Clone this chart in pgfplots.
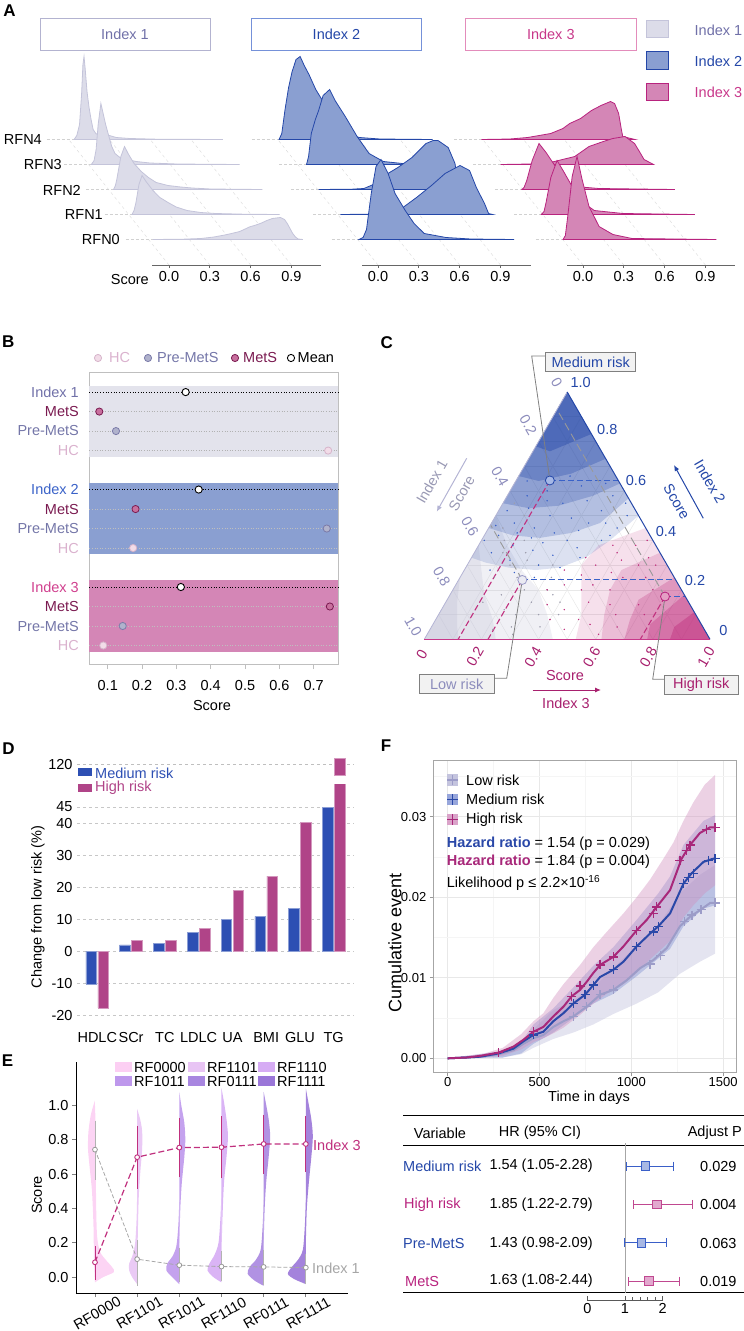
\documentclass[border=0pt]{standalone}
\usepackage{fontspec}
\setmainfont{Liberation Sans}
\usepackage{pgfplots}
\pgfplotsset{compat=1.18}
\usepackage{pgfplotstable}
\usetikzlibrary{arrows.meta}

\newcommand\fs[1]{\fontsize{#1}{#1}\selectfont}

\definecolor{gA}{HTML}{DCDCE9}
\definecolor{gAe}{HTML}{C4C4DA}
\definecolor{tA}{HTML}{7070A8}
\definecolor{gB}{HTML}{8A9FD1}
\definecolor{gBe}{HTML}{2447A8}
\definecolor{gC}{HTML}{D486B6}
\definecolor{gCe}{HTML}{B8237E}
\definecolor{tC}{HTML}{C8388A}
\definecolor{bandA}{HTML}{E3E3EC}
\definecolor{hcF}{HTML}{F2DCE8}
\definecolor{hcE}{HTML}{D6B4CA}
\definecolor{hcT}{HTML}{DAB2CE}
\definecolor{preF}{HTML}{B0B2CC}
\definecolor{preE}{HTML}{7A7AA8}
\definecolor{preT}{HTML}{7476A8}
\definecolor{metF}{HTML}{C8709E}
\definecolor{metE}{HTML}{7A1A50}
\definecolor{idxB}{HTML}{3A62C8}
\definecolor{idxC}{HTML}{D0408E}
\definecolor{medC}{HTML}{2D4FB3}
\definecolor{highC}{HTML}{B04488}
\definecolor{triL}{HTML}{B4B4D4}
\definecolor{triLt}{HTML}{8C8CBC}
\definecolor{triBt}{HTML}{A8206E}
\definecolor{ptA}{HTML}{C4C4D8}
\definecolor{ptC}{HTML}{C0307E}
\definecolor{vA}{HTML}{FCCFF3}
\definecolor{vB}{HTML}{E8C4F4}
\definecolor{vC}{HTML}{BE98EC}
\definecolor{vD}{HTML}{D6ACF4}
\definecolor{vE}{HTML}{A886E0}
\definecolor{vF}{HTML}{9A76D8}
\definecolor{lowL}{HTML}{9C9CC8}
\definecolor{lowB}{HTML}{C4C4DE}
\definecolor{medL}{HTML}{2A48A8}
\definecolor{medB}{HTML}{6A80CC}
\definecolor{highL}{HTML}{A8287A}
\definecolor{highB}{HTML}{D08CBC}
\definecolor{fBlue}{HTML}{3A5FC8}
\definecolor{fBlueF}{HTML}{A8B8E4}
\definecolor{fPink}{HTML}{C04890}
\definecolor{fPinkF}{HTML}{E2A8CE}

\pgfplotsset{
  every axis/.append style={font=\fs{14.5}, scale only axis,
    /pgf/number format/assume math mode=true},
  /pgfplots/table/tern/.style={x expr=\thisrow{c}+0.5*\thisrow{b}, y expr=0.8660*\thisrow{b}},
}

% ridge: fill, edge, row, coordinates (score, height)
\newcommand{\ridge}[4]{%
  \addplot[fill=#1, draw=#2, line width=0.8pt, x filter/.expression={x-0.147*#3},
    y filter/.expression={y+25.5+25*#3}] coordinates {#4} -- cycle;}
% half violin: colour, category, side (+/-), coordinates (half width px, score)
\newcommand{\vio}[4]{%
  \addplot[fill=#1, draw=none, fill opacity=0.9, smooth, tension=0.5,
    x filter/.expression={#2#3x/42.2}] coordinates {#4} -- cycle;}

% ---- C: ternary scores (Index 3 = c, Index 2 = b)
\pgfplotstableread{
c b
0.05 0.42
0.12 0.38
0.20 0.36
0.28 0.34
0.35 0.37
0.42 0.40
0.08 0.47
0.16 0.45
0.24 0.43
0.32 0.44
0.40 0.47
0.46 0.50
0.03 0.52
0.10 0.53
0.19 0.50
0.27 0.49
0.36 0.52
0.43 0.55
0.14 0.32
0.25 0.30
0.33 0.29
0.06 0.35
0.22 0.39
0.38 0.33
0.30 0.40
0.11 0.43
0.02 0.46
0.17 0.41
0.45 0.45
0.21 0.55
0.29 0.56
0.37 0.58
0.07 0.58
0.13 0.60
0.24 0.62
0.32 0.63
0.04 0.64
0.18 0.66
0.09 0.28
0.18 0.27
0.26 0.25
0.44 0.42
0.34 0.47
0.15 0.56
0.01 0.40
}\bluepts
\pgfplotstableread{
c b
0.45 0.30
0.50 0.35
0.52 0.27
0.55 0.38
0.48 0.22
0.55 0.20
0.60 0.30
0.58 0.14
0.62 0.10
0.65 0.25
0.50 0.15
0.45 0.20
0.42 0.26
0.55 0.06
0.60 0.02
0.65 0.05
0.68 0.14
0.62 0.33
0.40 0.33
0.47 0.38
0.53 0.32
0.38 0.22
0.43 0.12
0.50 0.08
0.57 0.25
0.70 0.20
0.66 0.30
0.72 0.10
0.35 0.28
0.58 0.40
0.40 0.08
0.36 0.14
0.47 0.04
0.33 0.20
}\pinkpts
\pgfplotstableread{
c b
0.15 0.30
0.20 0.25
0.25 0.20
0.30 0.15
0.35 0.10
0.28 0.05
0.22 0.12
0.18 0.18
0.12 0.25
0.10 0.35
0.08 0.40
0.18 0.35
0.25 0.30
0.32 0.25
0.40 0.15
0.38 0.05
0.30 0.30
0.15 0.40
0.22 0.04
0.33 0.20
0.20 0.32
0.05 0.45
0.27 0.10
0.13 0.15
0.42 0.10
0.36 0.18
0.10 0.50
0.04 0.55
0.30 0.02
}\greypts
% density levels of the three clouds
\pgfplotstableread{
c b
0 0.33
0.06 0.31
0.15 0.29
0.25 0.28
0.33 0.29
0.4 0.33
0.45 0.4
0.5 0.5
0 1
}\blueA
\pgfplotstableread{
c b
0 0.45
0.1 0.42
0.2 0.41
0.3 0.43
0.38 0.47
0.43 0.57
0 1
}\blueB
\pgfplotstableread{
c b
0 0.55
0.1 0.53
0.2 0.54
0.3 0.58
0.37 0.63
0 1
}\blueC
\pgfplotstableread{
c b
0 0.66
0.08 0.64
0.18 0.67
0.27 0.73
0 1
}\blueD
\pgfplotstableread{
c b
0 0.78
0.06 0.76
0.17 0.83
0 1
}\blueE
\pgfplotstableread{
c b
0.53 0
0.5 0.1
0.45 0.2
0.4 0.3
0.42 0.38
0.55 0.45
1 0
}\pinkA
\pgfplotstableread{
c b
0.62 0
0.58 0.1
0.55 0.2
0.55 0.28
0.65 0.35
1 0
}\pinkB
\pgfplotstableread{
c b
0.7 0
0.68 0.08
0.67 0.16
0.75 0.25
1 0
}\pinkC
\pgfplotstableread{
c b
0.78 0
0.76 0.06
0.82 0.18
1 0
}\pinkD
\pgfplotstableread{
c b
0.86 0
0.85 0.05
0.89 0.11
1 0
}\pinkE
\pgfplotstableread{
c b
0 0.5
0.1 0.38
0.2 0.28
0.3 0.2
0.38 0.1
0.45 0
0 0
}\greyA
\pgfplotstableread{
c b
0 0.38
0.06 0.28
0.12 0.18
0.2 0.08
0.25 0
0 0
}\greyB
\pgfplotstableread{
c b
0 0.25
0.04 0.15
0.09 0.05
0.12 0
0 0
}\greyC

% ---- F: cumulative event curves
\pgfplotstableread{
t v
0 0
103 0.0001
176 0.0003
276 0.0007
358 0.00145
412 0.0023
467 0.0033
521 0.0039
575 0.0052
630 0.0064
675 0.0077
721 0.0085
757 0.0095
793 0.0106
830 0.0116
902 0.0126
957 0.0139
1029 0.0159
1084 0.0172
1138 0.0188
1211 0.0209
1274 0.0248
1320 0.0265
1374 0.0280
1429 0.0287
1456 0.0287
}\curH
\pgfplotstableread{
t v
0 0
103 0.0001
176 0.0002
276 0.0006
358 0.0012
412 0.0021
467 0.0029
521 0.0033
575 0.0046
630 0.0056
684 0.0068
748 0.0079
793 0.0091
830 0.0101
902 0.0110
957 0.0120
1029 0.0139
1102 0.0155
1147 0.0164
1211 0.0180
1284 0.0217
1329 0.0230
1393 0.0244
1447 0.0248
1456 0.0248
}\curM
\pgfplotstableread{
t v
0 0
103 0.0001
176 0.0002
276 0.0005
358 0.0010
412 0.0018
467 0.0025
521 0.0029
575 0.0039
630 0.0046
684 0.0052
757 0.0064
830 0.0079
902 0.0085
975 0.0097
1048 0.0112
1120 0.0122
1193 0.0137
1265 0.0164
1320 0.0176
1374 0.0184
1429 0.0193
1456 0.0193
}\curL

\begin{document}
\begin{tikzpicture}[x=1pt, y=1pt, font=\fs{14.5}, tx/.style={inner sep=0pt}]
\useasboundingbox (0,0) rectangle (744,-1331);

% ================= A =================
\node[font=\fs{17}\bfseries] at (9.6,-10.8) {A};
\draw[draw=gAe!80!tA, line width=0.9pt] (40,-18.3) rectangle (210,-50.7);
\node[text=tA] at (125,-34.5) {Index 1};
\draw[draw=idxB!70!white, line width=0.9pt] (251.5,-18.3) rectangle (421.5,-50.7);
\node[text=gBe] at (336.5,-34.5) {Index 2};
\draw[draw=idxC!60!white, line width=0.9pt] (465.6,-18.3) rectangle (636,-50.7);
\node[text=tC] at (550.8,-34.5) {Index 3};
\draw[fill=gA, draw=gAe, line width=0.8pt] (646.6,-20) rectangle (668.2,-37.3);
\draw[fill=gB, draw=gBe, line width=0.8pt] (646.6,-51.7) rectangle (668.2,-69.3);
\draw[fill=gC, draw=gCe, line width=0.8pt] (646.6,-83.3) rectangle (668.2,-100.7);
\node[tx, anchor=west, text=tA] at (694.5,-30) {Index 1};
\node[tx, anchor=west, text=gBe] at (694.5,-61.5) {Index 2};
\node[tx, anchor=west, text=tC] at (694.5,-92.5) {Index 3};
\node[tx, anchor=east] at (42,-140) {RFN4};
\node[tx, anchor=east] at (62,-165) {RFN3};
\node[tx, anchor=east] at (81,-190) {RFN2};
\node[tx, anchor=east] at (103,-215) {RFN1};
\node[tx, anchor=east] at (120,-240) {RFN0};
\node[tx, anchor=east] at (149,-280) {Score};

\pgfplotsset{ridgeaxis/.style={anchor=south west, height=215pt, ymin=0, ymax=215, clip=false,
  axis x line=bottom, axis y line=none, axis line style={-, black!60, line width=0.8pt},
  xtick={0,0.3,0.6,0.9}, xticklabels={0.0,0.3,0.6,0.9},
  xtick align=outside, major tick length=3pt, tick style={black!60, line width=0.8pt}}}

\begin{axis}[ridgeaxis, at={(152pt,-265pt)}, width=169pt, xmin=-0.125, xmax=1.118]
\draw[dashed, black!15] (axis cs:0,0) -- (axis cs:-0.738,125.5);
\draw[dashed, black!15] (axis cs:0.3,0) -- (axis cs:-0.438,125.5);
\draw[dashed, black!15] (axis cs:0.6,0) -- (axis cs:-0.138,125.5);
\draw[dashed, black!15] (axis cs:0.9,0) -- (axis cs:0.162,125.5);
\draw[densely dashed, black!18] (axis cs:-0.898,125.5) -- (axis cs:-0.698,125.5);
\draw[densely dashed, black!18] (axis cs:-0.771,100.5) -- (axis cs:-0.571,100.5);
\draw[densely dashed, black!18] (axis cs:-0.608,75.5) -- (axis cs:-0.408,75.5);
\draw[densely dashed, black!18] (axis cs:-0.472,50.5) -- (axis cs:-0.272,50.5);
\draw[densely dashed, black!18] (axis cs:-0.318,25.5) -- (axis cs:-0.118,25.5);
\ridge{gA}{gAe}{4}{(-0.11,0) (-0.09,4) (-0.07,15) (-0.055,45) (-0.045,75) (-0.037,83) (-0.028,70) (-0.015,48) (0.0,32) (0.015,20) (0.03,10) (0.05,6) (0.08,4) (0.12,3) (0.15,4) (0.2,2) (0.3,1) (0.5,0.3) (0.985,0)}
\ridge{gA}{gAe}{3}{(-0.13,0) (-0.11,4) (-0.095,15) (-0.08,40) (-0.06,61) (-0.045,52) (-0.025,40) (-0.007,31) (0.02,18) (0.044,11) (0.08,7) (0.147,4.5) (0.2,3) (0.3,1.5) (0.5,0.5) (0.96,0)}
\ridge{gA}{gAe}{2}{(-0.114,0) (-0.1,4) (-0.09,10) (-0.06,33) (-0.033,43) (-0.007,36) (0.037,26) (0.09,18) (0.143,12) (0.2,7) (0.287,4) (0.38,2.5) (0.463,1.5) (0.6,0.5) (0.98,0)}
\ridge{gA}{gAe}{1}{(-0.125,0) (-0.11,4) (-0.096,12) (-0.074,30) (-0.051,39) (-0.022,33) (0.029,24) (0.08,17) (0.14,12) (0.2,7.5) (0.28,4) (0.38,2) (0.49,1) (0.7,0.3) (0.96,0)}
\ridge{gA}{gAe}{0}{(-0.118,0) (0.1,0.3) (0.235,1) (0.33,2.5) (0.41,4.5) (0.46,6) (0.52,8) (0.56,10.5) (0.59,12.5) (0.64,14.5) (0.68,16.5) (0.72,19) (0.76,21) (0.82,22) (0.85,20) (0.87,16) (0.89,11) (0.91,6) (0.93,2.5) (0.95,0.5) (0.985,0)}
\end{axis}

\begin{axis}[ridgeaxis, at={(362pt,-265pt)}, width=169pt, xmin=-0.118, xmax=1.125]
\draw[dashed, black!15] (axis cs:0,0) -- (axis cs:-0.738,125.5);
\draw[dashed, black!15] (axis cs:0.3,0) -- (axis cs:-0.438,125.5);
\draw[dashed, black!15] (axis cs:0.6,0) -- (axis cs:-0.138,125.5);
\draw[dashed, black!15] (axis cs:0.9,0) -- (axis cs:0.162,125.5);
\draw[densely dashed, black!18] (axis cs:-0.928,125.5) -- (axis cs:-0.728,125.5);
\draw[densely dashed, black!18] (axis cs:-0.726,100.5) -- (axis cs:-0.526,100.5);
\draw[densely dashed, black!18] (axis cs:-0.637,75.5) -- (axis cs:-0.437,75.5);
\draw[densely dashed, black!18] (axis cs:-0.477,50.5) -- (axis cs:-0.277,50.5);
\draw[densely dashed, black!18] (axis cs:-0.34,25.5) -- (axis cs:-0.14,25.5);
\ridge{gB}{gBe}{4}{(-0.14,0) (-0.12,6) (-0.096,30) (-0.07,52) (-0.044,68) (-0.015,80) (0.015,83) (0.045,74) (0.08,65) (0.13,50) (0.206,33) (0.27,16) (0.345,6) (0.45,2) (0.6,0.5) (0.99,0)}
\ridge{gB}{gBe}{3}{(-0.085,0) (-0.07,8) (-0.05,31) (-0.02,45) (0.004,54) (0.037,69) (0.085,75) (0.125,64) (0.2,48) (0.287,28) (0.375,11) (0.48,3) (0.62,1) (1.0,0)}
\ridge{gB}{gBe}{2}{(-0.143,0) (0.1,0.3) (0.19,1) (0.26,5) (0.33,13) (0.44,22) (0.544,32) (0.647,46) (0.7,49) (0.735,49) (0.81,42) (0.86,26) (0.875,12) (0.89,2) (0.91,0)}
\ridge{gB}{gBe}{1}{(-0.13,0) (0.2,0.5) (0.32,6) (0.43,17) (0.54,29) (0.64,41) (0.75,49) (0.82,44) (0.87,27) (0.93,11) (0.96,1) (0.99,0)}
\ridge{gB}{gBe}{0}{(-0.14,0) (-0.11,2) (-0.085,10) (-0.05,46) (-0.015,73) (0.022,80) (0.074,66) (0.125,46) (0.2,29) (0.265,16) (0.34,6) (0.5,2) (0.68,0.5) (1.0,0)}
\end{axis}

\begin{axis}[ridgeaxis, at={(567pt,-265pt)}, width=168pt, xmin=-0.118, xmax=1.118]
\draw[dashed, black!15] (axis cs:0,0) -- (axis cs:-0.738,125.5);
\draw[dashed, black!15] (axis cs:0.3,0) -- (axis cs:-0.438,125.5);
\draw[dashed, black!15] (axis cs:0.6,0) -- (axis cs:-0.138,125.5);
\draw[dashed, black!15] (axis cs:0.9,0) -- (axis cs:0.162,125.5);
\draw[densely dashed, black!18] (axis cs:-0.948,125.5) -- (axis cs:-0.748,125.5);
\draw[densely dashed, black!18] (axis cs:-0.806,100.5) -- (axis cs:-0.606,100.5);
\draw[densely dashed, black!18] (axis cs:-0.649,75.5) -- (axis cs:-0.449,75.5);
\draw[densely dashed, black!18] (axis cs:-0.507,50.5) -- (axis cs:-0.307,50.5);
\draw[densely dashed, black!18] (axis cs:-0.347,25.5) -- (axis cs:-0.147,25.5);
\ridge{gC}{gCe}{4}{(-0.16,0) (0.05,0.5) (0.18,2) (0.35,6) (0.44,11) (0.49,16) (0.57,21) (0.65,29) (0.72,34) (0.79,38) (0.82,36) (0.85,26) (0.87,10) (0.88,3) (0.97,0)}
\ridge{gC}{gCe}{3}{(-0.165,0) (0.05,0.5) (0.2,2) (0.38,8) (0.485,18) (0.59,23) (0.66,26) (0.75,28) (0.82,21) (0.86,12) (0.89,5) (0.96,0)}
\ridge{gC}{gCe}{2}{(-0.155,0) (-0.14,2) (-0.12,9) (-0.08,29) (-0.03,46) (0.022,37) (0.096,22) (0.16,9) (0.235,3) (0.41,1) (0.97,0)}
\ridge{gC}{gCe}{1}{(-0.16,0) (-0.14,3) (-0.125,12) (-0.09,37) (-0.044,54) (0.0,44) (0.05,32) (0.125,14) (0.23,4) (0.44,1) (0.97,0)}
\ridge{gC}{gCe}{0}{(-0.147,0) (-0.13,4) (-0.11,26) (-0.08,63) (-0.044,83) (-0.007,60) (0.044,33) (0.118,13) (0.22,5) (0.36,1) (0.98,0)}
\end{axis}

% ================= B =================
\node[font=\fs{17}\bfseries] at (8.3,-341.7) {B};
\draw[fill=hcF, draw=hcE, line width=0.8pt] (98,-358) circle (3.6);
\node[tx, anchor=west, text=hcT] at (109,-358) {HC};
\draw[fill=preF, draw=preE, line width=0.8pt] (148,-358) circle (3.6);
\node[tx, anchor=west, text=preT] at (157,-358) {Pre-MetS};
\draw[fill=metF, draw=metE, line width=0.8pt] (235,-358) circle (3.6);
\node[tx, anchor=west, text=metE] at (243,-358) {MetS};
\draw[fill=white, draw=black, line width=0.9pt] (291,-358) circle (3.6);
\node[tx, anchor=west] at (297.5,-358) {Mean};

\begin{axis}[at={(89.3pt,-664pt)}, anchor=south west, width=249pt, height=292pt,
  xmin=0.0463, xmax=0.7716, ymin=0.05, ymax=15.03, clip=false,
  axis line style={black!25, line width=0.8pt}, ytick=\empty,
  xtick={0.1,0.2,0.3,0.4,0.5,0.6,0.7}, xticklabels={0.1,0.2,0.3,0.4,0.5,0.6,0.7},
  tick pos=left, tick align=outside, major tick length=5pt, tick style={black!25, line width=0.8pt},
  xticklabel style={yshift=-8pt}]
\fill[bandA] (axis cs:0.0463,14.31) rectangle (axis cs:0.7716,10.67);
\fill[gB] (axis cs:0.0463,9.33) rectangle (axis cs:0.7716,5.69);
\fill[gC] (axis cs:0.0463,4.36) rectangle (axis cs:0.7716,0.68);
\pgfplotsinvokeforeach{13,12,11}{\draw[dotted, black!30, line width=0.6pt] (axis cs:0.0463,#1) -- (axis cs:0.7716,#1);}
\pgfplotsinvokeforeach{8,7,6,3,2,1}{\draw[dotted, white!75!black, line width=0.6pt] (axis cs:0.0463,#1) -- (axis cs:0.7716,#1);}
\pgfplotsinvokeforeach{14,9,4}{\draw[dotted, black, line width=0.7pt] (axis cs:0.0463,#1) -- (axis cs:0.7716,#1);}
\addplot[only marks, mark=*, mark size=3.6pt, mark options={fill=hcF, draw=hcE, line width=0.8pt}] coordinates {(0.742,11) (0.174,6) (0.087,1)};
\addplot[only marks, mark=*, mark size=3.6pt, mark options={fill=preF, draw=preE, line width=0.8pt}] coordinates {(0.124,12) (0.738,7) (0.1436,2)};
\addplot[only marks, mark=*, mark size=3.6pt, mark options={fill=metF, draw=metE, line width=0.8pt}] coordinates {(0.0754,13) (0.181,8) (0.747,3)};
\addplot[only marks, mark=*, mark size=3.6pt, mark options={fill=white, draw=black, line width=0.9pt}] coordinates {(0.327,14) (0.365,9) (0.313,4)};
\end{axis}
\node[tx, anchor=east, text=tA] at (79,-392) {Index 1};
\node[tx, anchor=east, text=metE] at (79,-411.5) {MetS};
\node[tx, anchor=east, text=preT] at (79,-431) {Pre-MetS};
\node[tx, anchor=east, text=hcT] at (79,-450.5) {HC};
\node[tx, anchor=east, text=idxB] at (79,-489.5) {Index 2};
\node[tx, anchor=east, text=metE] at (79,-509) {MetS};
\node[tx, anchor=east, text=preT] at (79,-528.5) {Pre-MetS};
\node[tx, anchor=east, text=hcT] at (79,-548) {HC};
\node[tx, anchor=east, text=idxC] at (79,-587) {Index 3};
\node[tx, anchor=east, text=metE] at (79,-606.5) {MetS};
\node[tx, anchor=east, text=preT] at (79,-626) {Pre-MetS};
\node[tx, anchor=east, text=hcT] at (79,-645.5) {HC};
\node at (212,-705) {Score};

% ================= C =================
\node[font=\fs{17}\bfseries] at (386.7,-342.5) {C};
\foreach \t in {0.1,0.2,...,0.9} {
  \draw[black!9, line width=0.5pt] ({424.3+142.85*\t},{-639.3+247.4*\t}) -- ({710-142.85*\t},{-639.3+247.4*\t});
  \draw[black!9, line width=0.5pt] ({424.3+285.7*\t},-639.3) -- ({710-142.85*(1-\t)},{-639.3+247.4*(1-\t)});
  \draw[black!9, line width=0.5pt] ({424.3+285.7*(1-\t)},-639.3) -- ({424.3+142.85*(1-\t)},{-639.3+247.4*(1-\t)});
}
\begin{axis}[at={(424.3pt,-639.3pt)}, anchor=south west, width=285.7pt, height=247.4pt,
  xmin=0, xmax=1, ymin=0, ymax=0.866, hide axis, clip=false]
\addplot[fill=ptA, draw=none, fill opacity=0.25] table[tern] {\greyA} -- cycle;
\addplot[fill=ptA, draw=none, fill opacity=0.3] table[tern] {\greyB} -- cycle;
\addplot[fill=ptA, draw=none, fill opacity=0.4] table[tern] {\greyC} -- cycle;
\addplot[fill=ptC, draw=none, fill opacity=0.15] table[tern] {\pinkA} -- cycle;
\addplot[fill=ptC, draw=none, fill opacity=0.2] table[tern] {\pinkB} -- cycle;
\addplot[fill=ptC, draw=none, fill opacity=0.27] table[tern] {\pinkC} -- cycle;
\addplot[fill=ptC, draw=none, fill opacity=0.35] table[tern] {\pinkD} -- cycle;
\addplot[fill=ptC, draw=none, fill opacity=0.45] table[tern] {\pinkE} -- cycle;
\addplot[fill=gBe, draw=none, fill opacity=0.16] table[tern] {\blueA} -- cycle;
\addplot[fill=gBe, draw=none, fill opacity=0.22] table[tern] {\blueB} -- cycle;
\addplot[fill=gBe, draw=none, fill opacity=0.26] table[tern] {\blueC} -- cycle;
\addplot[fill=gBe, draw=none, fill opacity=0.32] table[tern] {\blueD} -- cycle;
\addplot[fill=gBe, draw=none, fill opacity=0.42] table[tern] {\blueE} -- cycle;
\addplot[only marks, mark=*, mark size=0.5pt, color=ptA!80!black] table[tern] {\greypts};
\addplot[only marks, mark=*, mark size=0.5pt, color=ptC] table[tern] {\pinkpts};
\addplot[only marks, mark=*, mark size=0.5pt, color=idxB] table[tern] {\bluepts};
% guide lines through the three risk centres
\draw[ptC, dash pattern=on 6pt off 3pt, line width=1.1pt] (axis cs:0.4395,0.556) -- (axis cs:0.1185,0);
\draw[ptC, dash pattern=on 6pt off 3pt, line width=1.1pt] (axis cs:0.343,0.2078) -- (axis cs:0.223,0);
\draw[ptC, dash pattern=on 6pt off 3pt, line width=1.1pt] (axis cs:0.8425,0.1498) -- (axis cs:0.756,0);
\draw[idxB, dash pattern=on 6pt off 3pt, line width=1.1pt] (axis cs:0.4395,0.556) -- (axis cs:0.679,0.556);
\draw[idxB, dash pattern=on 6pt off 3pt, line width=1.1pt] (axis cs:0.343,0.2078) -- (axis cs:0.88,0.2078);
\draw[idxB, dash pattern=on 6pt off 3pt, line width=1.1pt] (axis cs:0.8425,0.1498) -- (axis cs:0.9135,0.1498);
\draw[black!40, dash pattern=on 8pt off 4pt, line width=0.9pt] (axis cs:0.343,0.2078) -- (axis cs:0.2315,0.401);
\draw[black!40, dash pattern=on 8pt off 4pt, line width=0.9pt] (axis cs:0.8425,0.1498) -- (axis cs:0.4645,0.8045);
\end{axis}
\draw[triL, line width=0.8pt] (424.3,-639.3) -- (567.2,-392);
\draw[gBe, line width=1pt] (567.2,-392) -- (710,-639.3);
\draw[tC, line width=1.5pt] (424.3,-639.3) -- (710,-639.3);
% leaders
\draw[black!50, line width=0.8pt] (545.7,-356) -- (531.7,-356) -- (550,-480.7);
\draw[black!50, line width=0.8pt] (494,-678.3) -- (506.7,-678.3) -- (522.3,-580);
\draw[black!50, line width=0.8pt] (664.3,-679.3) -- (652.7,-679.3) -- (665,-596.7);
\begin{axis}[at={(424.3pt,-639.3pt)}, anchor=south west, width=285.7pt, height=247.4pt,
  xmin=0, xmax=1, ymin=0, ymax=0.866, hide axis, clip=false]
% risk centres: Index 3 = 0.1185/0.223/0.756, Index 2 = 0.642/0.24/0.173
\addplot[only marks, mark=*, mark size=4.5pt, mark options={fill=idxB!45!white, draw=gBe, line width=0.8pt}] coordinates {(0.4395,0.556)};
\addplot[only marks, mark=*, mark size=4.5pt, mark options={fill=gA!60!white, draw=lowL, line width=0.8pt}] coordinates {(0.343,0.2078)};
\addplot[only marks, mark=*, mark size=4.5pt, mark options={fill=hcF!60!idxC, draw=gCe, line width=0.8pt}] coordinates {(0.8425,0.1498)};
\end{axis}
\node[draw=black!50, fill=black!5, line width=0.8pt, minimum width=90pt, minimum height=19pt, inner sep=0pt, text=gBe] at (590.7,-362.2) {Medium risk};
\node[draw=black!50, fill=black!5, line width=0.8pt, minimum width=74.7pt, minimum height=18.3pt, inner sep=0pt, text=triLt] at (456.7,-684) {Low risk};
\node[draw=black!50, fill=black!5, line width=0.8pt, minimum width=74pt, minimum height=18.3pt, inner sep=0pt, text=triBt] at (701.3,-684.8) {High risk};
% tick labels
\node[rotate=-60, text=triLt] at (556.7,-382.7) {0};
\node[rotate=-60, text=triLt] at (528.3,-425) {0.2};
\node[rotate=-60, text=triLt] at (500,-476.7) {0.4};
\node[rotate=-60, text=triLt] at (470,-526.7) {0.6};
\node[rotate=-60, text=triLt] at (441.7,-576.7) {0.8};
\node[rotate=-60, text=triLt] at (413.3,-626.7) {1.0};
\node[text=gBe] at (580.7,-382.7) {1.0};
\node[text=gBe] at (607.3,-429.3) {0.8};
\node[text=gBe] at (636,-480) {0.6};
\node[text=gBe] at (666,-531) {0.4};
\node[text=gBe] at (695,-580.7) {0.2};
\node[text=gBe] at (723.3,-630) {0};
\node[rotate=60, text=triBt] at (421.7,-655) {0};
\node[rotate=60, text=triBt] at (475,-656.7) {0.2};
\node[rotate=60, text=triBt] at (533,-657) {0.4};
\node[rotate=60, text=triBt] at (591.7,-657) {0.6};
\node[rotate=60, text=triBt] at (648.3,-657) {0.8};
\node[rotate=60, text=triBt] at (706,-657) {1.0};
\node[rotate=60, text=triL!85!black] at (431.7,-481.7) {Index 1};
\node[rotate=60, text=triL!85!black] at (461.7,-493.3) {Score};
\draw[-{Latex[length=6pt,width=5pt]}, triL, line width=1pt] (466.7,-458.3) -- (436.7,-511.7);
\node[rotate=-60, text=gBe] at (710,-481.7) {Index 2};
\node[rotate=-60, text=gBe] at (676.7,-501.7) {Score};
\draw[-{Latex[length=6pt,width=5pt]}, gBe, line width=1pt] (703.3,-518.3) -- (674,-465);
\node[text=triBt] at (565,-675) {Score};
\draw[-{Latex[length=6pt,width=5pt]}, triBt, line width=1pt] (532.7,-690) -- (601,-690);
\node[text=triBt] at (566,-703) {Index 3};

% ================= D =================
\node[font=\fs{17}\bfseries] at (8.5,-748.5) {D};
\pgfplotsset{baraxis/.style={anchor=south west, width=277pt, xmin=-0.601, xmax=7.601,
  axis line style={draw=none}, tick style={draw=none}, ymajorgrids,
  grid style={dashed, black!22, line width=0.7pt}, yticklabel style={xshift=-1pt}}}
\begin{axis}[baraxis, at={(77pt,-1018.2pt)}, height=233.6pt, ymin=-21, ymax=52,
  ytick={-20,-10,0,10,20,30,40,45},
  xtick={0,...,7}, xticklabels={HDLC,SCr,TC,LDLC,UA,BMI,GLU,TG}, xticklabel style={yshift=-11pt}]
\addplot[ybar, bar width=10.7pt, bar shift=-6pt, fill=medC, draw=medC!55!white, line width=0.6pt]
  coordinates {(0,-10.3) (1,1.9) (2,2.4) (3,5.7) (4,9.9) (5,10.8) (6,13.2) (7,44.9)};
\addplot[ybar, bar width=10.7pt, bar shift=6pt, fill=highC, draw=highC!55!white, line width=0.6pt]
  coordinates {(0,-17.8) (1,3.4) (2,3.4) (3,7.1) (4,18.9) (5,23.4) (6,40.2) (7,121.9)};
\end{axis}
% upper segment of the broken axis: only the TG high-risk bar reaches it
\begin{axis}[baraxis, at={(77pt,-775.2pt)}, height=27.2pt, ymin=116.5, ymax=125,
  ytick={120}, xtick=\empty, clip=false]
\draw[dashed, black!25, line width=0.7pt] (axis cs:-0.601,120) -- (axis cs:7.601,120);
\addplot[ybar, bar width=10.7pt, bar shift=6pt, fill=highC, draw=highC!55!white, line width=0.6pt]
  coordinates {(7,121.9)};
\end{axis}
\node[rotate=90] at (38,-907) {Change from low risk (\%)};
\fill[medC] (78.3,-768.3) rectangle (91.7,-776);
\node[tx, anchor=west, text=medC] at (95,-773) {Medium risk};
\fill[highC] (78.3,-784.3) rectangle (91.7,-791.7);
\node[tx, anchor=west, text=highC] at (95,-788) {High risk};

% ================= E =================
\node[font=\fs{17}\bfseries] at (7.5,-1061) {E};
\fill[vA] (115,-1062) rectangle (132,-1072); \node[tx, anchor=west] at (134,-1067) {RF0000};
\fill[vB] (188,-1062) rectangle (205,-1072); \node[tx, anchor=west] at (207,-1067) {RF1101};
\fill[vD] (258,-1062) rectangle (275,-1072); \node[tx, anchor=west] at (277,-1067) {RF1110};
\fill[vC] (115,-1076) rectangle (132,-1086); \node[tx, anchor=west] at (134,-1081) {RF1011};
\fill[vE] (188,-1076) rectangle (205,-1086); \node[tx, anchor=west] at (207,-1081) {RF0111};
\fill[vF] (258,-1076) rectangle (275,-1086); \node[tx, anchor=west] at (277,-1081) {RF1111};

\begin{axis}[at={(76pt,-1293pt)}, anchor=south west, width=272pt, height=231.3pt,
  xmin=0.55, xmax=7.0, ymin=-0.092, ymax=1.255, clip=false,
  axis x line=bottom, axis y line=left, axis line style={-, line width=0.9pt},
  xtick={1,...,6}, xticklabels={}, ytick={0,0.2,0.4,0.6,0.8,1.0},
  yticklabels={0.0,0.2,0.4,0.6,0.8,1.0},
  tick align=outside, major tick length=4pt, tick style={line width=0.8pt}]
\vio{vA}{1}{-}{(0,-0.02) (1,0.1) (1.5,0.3) (3,0.5) (5.5,0.65) (7,0.75) (6.5,0.85) (4,0.95) (0,1.03)}
\vio{vA}{1}{+}{(0,-0.03) (8,0.0) (19,0.03) (17,0.06) (11,0.1) (5,0.15) (2,0.25) (1,0.5) (1,0.8) (0,1.0)}
\vio{vB}{2}{-}{(0,-0.04) (5,0.0) (8,0.04) (8,0.08) (5,0.12) (2,0.2) (0.5,0.35) (0,0.5)}
\vio{vB}{2}{+}{(0,0.0) (0.5,0.2) (1.5,0.45) (3,0.6) (5,0.75) (5,0.85) (3,0.92) (0,0.98)}
\vio{vC}{3}{-}{(0,-0.04) (7,0.0) (13,0.04) (12,0.08) (7,0.12) (3,0.18) (1,0.3) (0,0.45)}
\vio{vC}{3}{+}{(0,0.2) (1,0.4) (2.5,0.55) (5,0.7) (6,0.8) (5,0.9) (2,1.0) (0,1.08)}
\vio{vD}{4}{-}{(0,-0.03) (8,0.0) (14,0.04) (12,0.08) (7,0.13) (3,0.2) (1,0.35) (0,0.5)}
\vio{vD}{4}{+}{(0,0.15) (1,0.35) (2.5,0.55) (5,0.7) (6.5,0.82) (5,0.92) (2.5,1.02) (0,1.1)}
\vio{vE}{5}{-}{(0,-0.05) (9,-0.02) (16,0.02) (14,0.06) (8,0.1) (3,0.16) (1,0.3) (0,0.45)}
\vio{vE}{5}{+}{(0,0.2) (1,0.4) (2.5,0.55) (5,0.7) (6.5,0.82) (5,0.92) (2,1.02) (0,1.08)}
\vio{vF}{6}{-}{(0,-0.04) (12,-0.01) (18,0.02) (14,0.06) (8,0.1) (3,0.16) (1,0.3) (0,0.45)}
\vio{vF}{6}{+}{(0,0.2) (1,0.4) (3,0.55) (5.5,0.7) (7,0.82) (5.5,0.92) (2.5,1.02) (0,1.1)}
\addplot[black!35, line width=0.8pt, dash pattern=on 4pt off 2pt, mark=*, mark size=2.4pt,
  mark options={solid, fill=white, draw=black!40},
  error bars/.cd, y dir=both, y explicit, error mark=-,
  error bar style={solid, black!30, line width=0.9pt}, error mark options={mark size=3pt, black!30, line width=0.9pt}]
  coordinates {(1,0.743) += (0,0.150) -= (0,0.157) (2,0.105) += (0,0.093) -= (0,0.140)
    (3,0.070) += (0,0.085) -= (0,0.082) (4,0.062) += (0,0.073) -= (0,0.068)
    (5,0.060) += (0,0.080) -= (0,0.085) (6,0.056) += (0,0.064) -= (0,0.076)};
\addplot[ptC, line width=1.2pt, dash pattern=on 6pt off 3pt, mark=*, mark size=2.4pt,
  mark options={solid, fill=white, draw=ptC, line width=0.9pt},
  error bars/.cd, y dir=both, y explicit, error mark=-,
  error bar style={solid, ptC, line width=0.9pt}, error mark options={mark size=3pt, ptC, line width=0.9pt}]
  coordinates {(1,0.087) += (0,0.076) -= (0,0.083) (2,0.699) += (0,0.163) -= (0,0.167)
    (3,0.755) += (0,0.155) -= (0,0.155) (4,0.757) += (0,0.163) -= (0,0.164)
    (5,0.776) += (0,0.154) -= (0,0.156) (6,0.776) += (0,0.146) -= (0,0.146)};
\end{axis}
\node[tx, anchor=west, text=ptC] at (313,-1145) {Index 3};
\node[tx, anchor=west, text=black!35] at (312,-1268) {Index 1};
\node[rotate=90] at (37,-1195) {Score};
\node[rotate=30] at (97.2,-1313) {RF0000};
\node[rotate=30] at (139.4,-1313) {RF1101};
\node[rotate=30] at (181.6,-1313) {RF1011};
\node[rotate=30] at (223.8,-1313) {RF1110};
\node[rotate=30] at (266,-1313) {RF0111};
\node[rotate=30] at (308.2,-1313) {RF1111};

% ================= F =================
\node[font=\fs{17}\bfseries] at (386,-746) {F};
\begin{axis}[at={(433.3pt,-1072.7pt)}, anchor=south west, width=303.4pt, height=312.7pt,
  xmin=-78.4, xmax=1574, ymin=-0.00179, ymax=0.03706,
  axis line style={black!35, line width=0.9pt},
  xtick={0,500,1000,1500}, xticklabels={0,500,1000,1500}, minor xtick={250,750,1250},
  ytick={0,0.01,0.02,0.03}, yticklabels={0.00,0.01,0.02,0.03}, minor ytick={0.005,0.015,0.025,0.035},
  grid=both, major grid style={black!9, line width=0.7pt}, minor grid style={black!4, line width=0.5pt},
  tick pos=left, tick align=outside, major tick length=3.5pt, minor tick length=0pt,
  tick style={black!40, line width=0.8pt}, scaled ticks=false, font=\fs{13},
  xticklabel style={yshift=2pt}]
% confidence bands: upper limit forward, lower limit backward
\addplot[fill=lowB, draw=none, fill opacity=0.45] coordinates {(0,0) (300,0.0006) (400,0.0016) (467,0.0036) (575,0.0060) (684,0.0072) (793,0.0088) (902,0.0112) (1029,0.0140) (1147,0.0165) (1265,0.0205) (1374,0.0228) (1456,0.0240)
  (1456,0.0130) (1374,0.0120) (1265,0.0105) (1147,0.0082) (1029,0.0068) (902,0.0055) (793,0.0042) (684,0.0032) (575,0.0024) (467,0.0013) (400,0.0005) (300,0.0001)} -- cycle;
\addplot[fill=medB, draw=none, fill opacity=0.35] coordinates {(0,0) (300,0.0009) (400,0.0020) (467,0.0042) (575,0.0062) (684,0.0088) (793,0.0115) (902,0.0138) (1029,0.0172) (1147,0.0205) (1211,0.0226) (1284,0.0265) (1393,0.0295) (1456,0.0302)
  (1456,0.0190) (1393,0.0186) (1284,0.0164) (1211,0.0136) (1147,0.0124) (1029,0.0102) (902,0.0080) (793,0.0068) (684,0.0050) (575,0.0032) (467,0.0018) (400,0.0006) (300,0.0001)} -- cycle;
\addplot[fill=highB, draw=none, fill opacity=0.4] coordinates {(0,0) (200,0.0006) (300,0.0013) (400,0.0030) (467,0.0046) (521,0.0056) (575,0.0075) (630,0.0092) (721,0.0116) (793,0.0138) (866,0.0157) (957,0.0180) (1029,0.0200) (1102,0.0222) (1175,0.0248) (1229,0.0268) (1284,0.0295) (1338,0.0318) (1400,0.0340) (1456,0.0352)
  (1456,0.0215) (1400,0.0205) (1338,0.0190) (1284,0.0175) (1229,0.0150) (1175,0.0138) (1102,0.0123) (1029,0.0106) (957,0.0092) (866,0.0080) (793,0.0068) (721,0.0054) (630,0.0038) (575,0.0031) (521,0.0025) (467,0.0020) (400,0.0011) (300,0.0003) (200,0.0001)} -- cycle;
\addplot[lowL, line width=2pt] table[x=t, y=v] {\curL};
\addplot[medL, line width=2pt] table[x=t, y=v] {\curM};
\addplot[highL, line width=2pt] table[x=t, y=v] {\curH};
\addplot[only marks, mark=+, mark size=4.5pt, lowL, line width=1.3pt] coordinates {(684,0.0052) (757,0.0064) (830,0.0079) (902,0.0085) (1102,0.0117) (1160,0.0128) (1290,0.0170) (1330,0.0178) (1380,0.0185) (1456,0.0193)};
\addplot[only marks, mark=+, mark size=4.5pt, medL, line width=1.3pt] coordinates {(467,0.0029) (684,0.0068) (748,0.0079) (793,0.0091) (902,0.0110) (1029,0.0139) (1120,0.0157) (1147,0.0164) (1284,0.0217) (1310,0.0225) (1338,0.0230) (1420,0.0246) (1456,0.0248)};
\addplot[only marks, mark=+, mark size=4.5pt, highL, line width=1.3pt] coordinates {(276,0.0007) (467,0.0033) (675,0.0077) (721,0.0090) (830,0.0116) (902,0.0126) (1029,0.0159) (1120,0.0180) (1138,0.0188) (1265,0.0246) (1300,0.0258) (1320,0.0265) (1410,0.0284) (1456,0.0287)};
\end{axis}
\node[rotate=90, font=\fs{18}] at (395,-943) {Cumulative event};
\node at (589,-1097.3) {Time in days};
\fill[lowB] (446.7,-774.2) rectangle (458.3,-785.8);
\draw[lowL, line width=1.6pt] (447.2,-780) -- (457.8,-780) (452.5,-774.7) -- (452.5,-785.3);
\node[tx, anchor=west] at (466,-780) {Low risk};
\fill[medB!70!white] (446.7,-793.5) rectangle (458.3,-805.1);
\draw[medL, line width=1.6pt] (447.2,-799.3) -- (457.8,-799.3) (452.5,-794) -- (452.5,-804.6);
\node[tx, anchor=west] at (466,-799.3) {Medium risk};
\fill[highB!80!white] (446.7,-813.5) rectangle (458.3,-825.1);
\draw[highL, line width=1.6pt] (447.2,-819.3) -- (457.8,-819.3) (452.5,-814) -- (452.5,-824.6);
\node[tx, anchor=west] at (466,-819.3) {High risk};
\node[tx, anchor=west] at (446.7,-843.3) {{\color{medL}\bfseries Hazard ratio} = 1.54 (p = 0.029)};
\node[tx, anchor=west] at (446.7,-861.7) {{\color{highL}\bfseries Hazard ratio} = 1.84 (p = 0.004)};
\node[tx, anchor=west] at (446.7,-882.7) {Likelihood p ≤ 2.2×10\textsuperscript{-16}};

% forest table
\draw[line width=1pt] (403,-1115) -- (744,-1115);
\draw[line width=1pt] (403,-1145.7) -- (744,-1145.7);
\draw[line width=1pt] (403,-1292.7) -- (744,-1292.7);
\node at (440,-1133) {Variable};
\node at (540,-1133) {HR (95\% CI)};
\node[tx, anchor=east] at (742,-1133) {Adjust P};
\node[tx, anchor=west, text=gBe] at (403,-1166) {Medium risk};
\node[tx, anchor=west, text=gCe] at (404,-1204.3) {High risk};
\node[tx, anchor=west, text=gBe] at (403,-1243.3) {Pre-MetS};
\node[tx, anchor=west, text=gCe] at (405,-1281) {MetS};
\node[tx, anchor=west] at (489.3,-1166) {1.54 (1.05-2.28)};
\node[tx, anchor=west] at (489.3,-1204.3) {1.85 (1.22-2.79)};
\node[tx, anchor=west] at (489.3,-1243.3) {1.43 (0.98-2.09)};
\node[tx, anchor=west] at (489.3,-1281) {1.63 (1.08-2.44)};
\node[tx, anchor=west] at (700,-1166) {0.029};
\node[tx, anchor=west] at (700,-1204.3) {0.004};
\node[tx, anchor=west] at (700,-1243.3) {0.063};
\node[tx, anchor=west] at (700,-1281) {0.019};
\begin{axis}[at={(587.3pt,-1300pt)}, anchor=south west, width=75.4pt, height=157pt,
  xmin=0, xmax=2, ymin=0.504, ymax=4.6, clip=false,
  axis x line=bottom, axis y line=none, axis line style={-, black!65, line width=0.9pt},
  xtick={0,1,2}, minor xtick={1.2,1.4,1.6,1.8}, tick align=inside, major tick length=4pt,
  minor tick length=3pt, tick style={black!65, line width=0.8pt}]
\draw[black!35, line width=0.8pt] (axis cs:1,0.687) -- (axis cs:1,4.6);
\addplot[only marks, mark=square*, mark size=4.3pt, mark options={fill=fBlueF, draw=fBlue, line width=0.8pt},
  error bars/.cd, x dir=both, x explicit, error mark=|,
  error bar style={fBlue, line width=0.9pt}, error mark options={mark size=4.5pt, fBlue, line width=0.9pt}]
  coordinates {(1.54,4) += (0.74,0) -= (0.49,0) (1.43,2) += (0.66,0) -= (0.45,0)};
\addplot[only marks, mark=square*, mark size=4.3pt, mark options={fill=fPinkF, draw=fPink, line width=0.8pt},
  error bars/.cd, x dir=both, x explicit, error mark=|,
  error bar style={fPink, line width=0.9pt}, error mark options={mark size=4.5pt, fPink, line width=0.9pt}]
  coordinates {(1.85,3) += (0.94,0) -= (0.63,0) (1.63,1) += (0.81,0) -= (0.55,0)};
\end{axis}
\end{tikzpicture}
\end{document}
